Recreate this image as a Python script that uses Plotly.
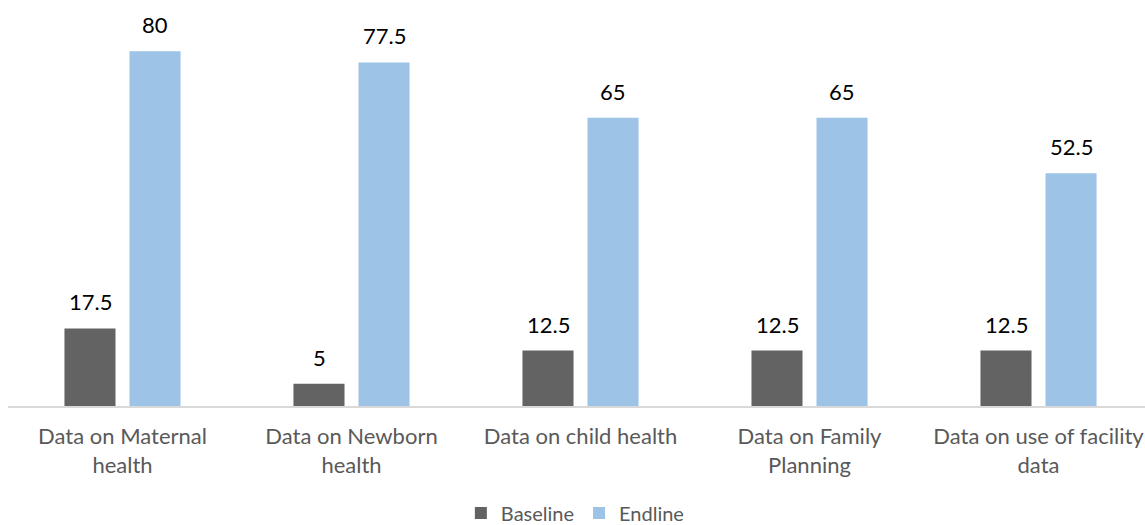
import plotly.graph_objects as go

categories = [
    "Data on Maternal<br>health",
    "Data on Newborn<br>health",
    "Data on child health",
    "Data on Family<br>Planning",
    "Data on use of facility<br>data",
]
baseline = [17.5, 5, 12.5, 12.5, 12.5]
endline = [80, 77.5, 65, 65, 52.5]

BASE_COLOR = "#636363"
END_COLOR = "#9DC3E6"
FONT = "Lato, 'Open Sans', sans-serif"

fig = go.Figure()
fig.add_trace(go.Bar(name="Baseline", x=categories, y=baseline,
                     marker=dict(color=BASE_COLOR, line=dict(width=0))))
fig.add_trace(go.Bar(name="Endline", x=categories, y=endline,
                     marker=dict(color=END_COLOR, line=dict(width=0))))

# value labels above each bar
for series, shift in ((baseline, -32.5), (endline, 32.5)):
    for cat, v in zip(categories, series):
        fig.add_annotation(x=cat, y=v, text=f"{v:g}", showarrow=False,
                           xshift=shift, yshift=11, yanchor="bottom",
                           font=dict(family=FONT, size=22, color="#000000"))

fig.update_layout(
    width=1145, height=525,
    margin=dict(l=8, r=0, t=7, b=119, autoexpand=False),
    paper_bgcolor="white", plot_bgcolor="white",
    barmode="group", bargap=0.432, bargroupgap=0.215,
    showlegend=True,
    legend=dict(orientation="h", x=0.499, xanchor="center", y=-0.268, yanchor="middle",
                font=dict(family=FONT, size=20, color="#595959"),
                itemwidth=30, traceorder="normal"),
    xaxis=dict(range=[-0.5, 4.465], showgrid=False, showline=True, automargin=False,
               linecolor="#D9D9D9", linewidth=2, ticks="", ticklabelstandoff=10,
               tickfont=dict(family=FONT, size=22, color="#595959")),
    yaxis=dict(range=[0, 90], visible=False, showgrid=False, automargin=False),
)

fig.write_html("out.html")
